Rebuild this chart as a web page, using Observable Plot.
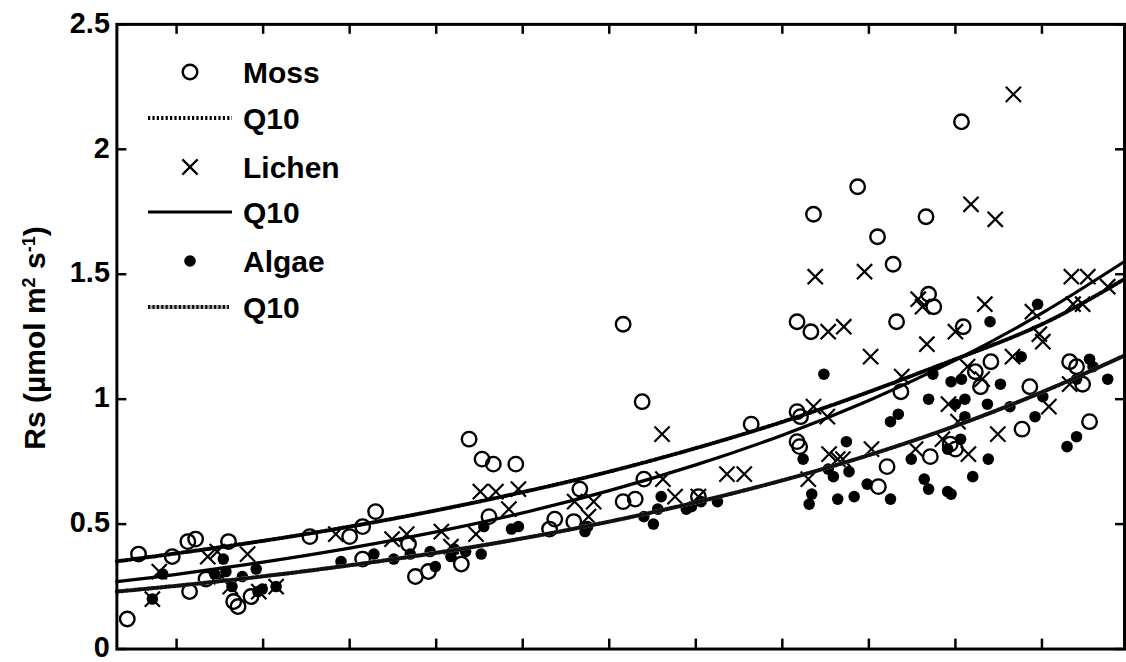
<!DOCTYPE html>
<html><head><meta charset="utf-8">
<script src="https://cdn.jsdelivr.net/npm/d3@7"></script>
<script src="https://cdn.jsdelivr.net/npm/@observablehq/plot@0.6"></script>
<style>
html,body{margin:0;padding:0;background:#fff;overflow:hidden;}
#wrap{position:relative;width:1126px;height:662px;overflow:hidden;background:#fff;}
#wrap > svg{position:absolute;left:0;top:0;}
#ylabel{position:absolute;left:35px;top:338px;transform:translate(-50%,-50%) rotate(-90deg);
  font-family:"Liberation Sans",Arial,sans-serif;font-weight:bold;font-size:30px;line-height:30px;white-space:nowrap;color:#000;}
#ylabel sup{font-size:0.6em;vertical-align:0.55em;line-height:0;}
</style></head>
<body><div id="wrap"></div>
<script>
// ---- data (x in tick units, y = Rs) ----
const mossX = [-0.57,-0.44,-0.05,0.13,0.22,0.15,0.34,0.60,0.66,0.71,0.86,1.54,2.00,2.15,2.30,2.15,2.68,2.76,2.91,3.29,3.38,3.53,3.66,3.92,3.61,4.31,4.37,4.59,4.66,5.16,5.38,5.40,5.16,5.30,6.03,6.64,7.17,7.33,7.17,7.21,7.17,7.20,7.36,7.87,8.10,8.28,8.32,8.66,8.69,8.75,8.37,8.21,8.11,8.71,8.94,9.00,9.07,9.09,9.23,9.41,9.29,9.86,9.77,10.32,10.40,10.47,10.55];
const mossY = [0.12,0.38,0.37,0.43,0.44,0.23,0.28,0.43,0.19,0.17,0.21,0.45,0.45,0.49,0.55,0.36,0.42,0.29,0.31,0.34,0.84,0.76,0.74,0.74,0.53,0.48,0.52,0.51,0.64,1.30,0.99,0.68,0.59,0.60,0.61,0.90,1.31,1.27,0.95,0.93,0.83,0.81,1.74,1.85,1.65,1.54,1.31,1.73,1.42,1.37,1.03,0.73,0.65,0.77,0.82,0.80,2.11,1.29,1.11,1.15,1.05,1.05,0.88,1.15,1.13,1.06,0.91];

const lichenX = [-0.28,-0.20,0.36,0.47,0.82,0.52,0.62,0.95,1.15,1.84,2.49,2.66,3.06,3.17,3.46,3.51,3.69,3.95,3.84,4.60,4.82,4.76,5.61,5.62,5.76,6.36,6.56,6.03,7.38,7.95,8.57,8.62,7.53,7.71,8.02,8.67,8.38,9.00,7.36,7.52,7.54,7.64,7.70,7.30,8.03,8.54,8.85,8.92,9.03,9.15,9.14,9.31,9.66,9.49,10.08,10.32,9.34,9.67,9.18,9.46,10.34,10.53,10.76,9.89,9.97,10.01,10.36,10.47];
const lichenY = [0.20,0.31,0.37,0.39,0.38,0.29,0.25,0.23,0.25,0.46,0.44,0.46,0.47,0.41,0.46,0.63,0.63,0.64,0.56,0.59,0.59,0.53,0.86,0.68,0.61,0.70,0.70,0.61,1.49,1.51,1.40,1.37,1.27,1.29,1.17,1.22,1.09,1.27,0.97,0.93,0.78,0.76,0.76,0.68,0.80,0.80,0.84,0.98,0.91,0.78,1.13,1.08,1.17,0.86,0.97,1.06,1.38,2.22,1.78,1.72,1.49,1.49,1.45,1.35,1.26,1.23,1.38,1.38];

const algaeX = [-0.28,-0.16,0.44,0.54,0.57,0.64,0.76,0.92,0.94,0.99,1.15,1.90,2.28,2.51,2.70,2.93,2.99,3.17,3.21,3.34,3.52,3.55,3.87,3.95,4.72,4.75,5.40,5.51,5.60,5.56,5.89,5.95,6.06,6.25,7.48,8.34,8.25,8.69,7.74,7.24,7.53,7.59,7.77,7.34,7.31,7.64,7.83,7.98,8.25,8.49,8.64,8.69,8.91,8.95,8.91,8.74,8.95,9.07,9.11,9.00,9.37,9.52,9.63,9.76,9.92,10.01,9.11,9.06,9.38,9.20,10.40,10.55,10.59,10.76,10.29,10.40,9.40,9.95];
const algaeY = [0.20,0.30,0.30,0.36,0.31,0.25,0.29,0.32,0.23,0.24,0.25,0.35,0.38,0.36,0.38,0.39,0.33,0.37,0.40,0.39,0.38,0.49,0.48,0.49,0.47,0.49,0.53,0.50,0.61,0.56,0.56,0.57,0.59,0.59,1.10,0.94,0.91,1.00,0.83,0.76,0.72,0.69,0.71,0.62,0.58,0.60,0.61,0.66,0.60,0.76,0.68,0.64,0.63,0.62,0.80,1.10,1.07,1.08,1.00,0.98,0.98,1.06,0.97,1.17,0.93,1.01,0.93,0.84,0.76,0.69,1.08,1.16,1.13,1.08,0.81,0.85,1.31,1.38];

// Q10 fitted curves
const curveX      = [-0.69, 0, 1, 2, 3, 4, 5, 6, 7, 8, 9, 10, 10.95];
const mossQ10Y    = [0.351,0.383,0.433,0.490,0.555,0.628,0.710,0.804,0.909,1.029,1.16,1.30,1.48];
const lichenQ10Y  = [0.270,0.299,0.348,0.404,0.469,0.545,0.634,0.737,0.856,0.995,1.156,1.344,1.55];
const algaeQ10Y   = [0.230,0.253,0.291,0.335,0.385,0.443,0.510,0.587,0.675,0.776,0.893,1.028,1.174];

const xTicks = [0,1,2,3,4,5,6,7,8,9,10];
const yTicks = [0,0.5,1,1.5,2,2.5];
const yTickLabels = ["0","0.5","1","1.5","2","2.5"];
const legendLabels = ["Moss","Q10","Lichen","Q10","Algae","Q10"];

// ---- build ----
const pts = (xs, ys) => xs.map((x, i) => ({x, y: ys[i]}));
const moss = pts(mossX, mossY), lichen = pts(lichenX, lichenY), algae = pts(algaeX, algaeY);
const mossC = pts(curveX, mossQ10Y), lichenC = pts(curveX, lichenQ10Y), algaeC = pts(curveX, algaeQ10Y);

const font = '"Liberation Sans", Arial, sans-serif';
const dotDash = "2.2 2.2";
const chart = Plot.plot({
  width: 1132, height: 662,
  marginLeft: 117, marginRight: 2, marginTop: 24, marginBottom: 10,
  style: {fontFamily: font, fontSize: "29px", fontWeight: "bold", color: "#000", background: "transparent", overflow: "visible"},
  x: {domain: [-0.69, 10.954], axis: null},
  y: {domain: [0, 2.5], axis: null},
  marks: [
    Plot.dot(moss, {x: "x", y: "y", r: 7.3, stroke: "#000", strokeWidth: 2.4, fill: "none"}),
    Plot.dot(lichen, {x: "x", y: "y", r: 7, symbol: "times", stroke: "#000", strokeWidth: 2.2}),
    Plot.dot(algae, {x: "x", y: "y", r: 5.8, fill: "#000", stroke: "none"}),
    Plot.line(mossC, {x: "x", y: "y", curve: "natural", stroke: "#000", strokeWidth: 4, strokeDasharray: dotDash}),
    Plot.line(lichenC, {x: "x", y: "y", curve: "natural", stroke: "#000", strokeWidth: 3.2}),
    Plot.line(algaeC, {x: "x", y: "y", curve: "natural", stroke: "#b0b0b0", strokeWidth: 4}),
    Plot.line(algaeC, {x: "x", y: "y", curve: "natural", stroke: "#111", strokeWidth: 4, strokeDasharray: dotDash}),
    Plot.axisX({anchor: "bottom", ticks: xTicks, tickSize: -10, strokeWidth: 2.5, tickFormat: () => "", label: null}),
    Plot.axisX({anchor: "top", ticks: xTicks, tickSize: -9, strokeWidth: 2.5, tickFormat: () => "", label: null}),
    Plot.axisY({anchor: "left", ticks: yTicks, tickSize: -10, strokeWidth: 2.5, tickFormat: () => "", label: null}),
    Plot.axisY({anchor: "right", ticks: yTicks, tickSize: -10, strokeWidth: 2.5, tickFormat: () => "", label: null}),
    Plot.axisY({anchor: "left", ticks: yTicks, tickSize: 0, tickPadding: 7, dy: -1, tickFormat: (d, i) => yTickLabels[i], label: null}),
    Plot.frame({stroke: "#000", strokeWidth: 3})
  ]
});
const wrap = document.getElementById("wrap");
wrap.appendChild(chart);

// y label
const yl = document.createElement("div");
yl.id = "ylabel";
yl.innerHTML = "Rs (µmol m<sup>2</sup> s<sup>-1</sup>)";
wrap.appendChild(yl);

// legend overlay (inside plot, top-left)
const leg = d3.select(wrap).append("svg")
  .attr("width", 1126).attr("height", 662)
  .style("position", "absolute").style("left", 0).style("top", 0);
const rowY = [72, 118, 167, 212, 261, 307];
const symX = 190, lx0 = 148, lx1 = 232, tx = 243;
legendLabels.forEach((lab, i) => {
  const y = rowY[i];
  if (i === 0) leg.append("circle").attr("cx", symX).attr("cy", y).attr("r", 7.3).attr("fill", "none").attr("stroke", "#000").attr("stroke-width", 2.4);
  if (i === 2) leg.append("path").attr("d", d3.symbol(d3.symbolTimes, Math.PI * 49)()).attr("transform", `translate(${symX},${y})`).attr("fill", "none").attr("stroke", "#000").attr("stroke-width", 2.2);
  if (i === 4) leg.append("circle").attr("cx", symX).attr("cy", y).attr("r", 5.8).attr("fill", "#000");
  if (i === 1) leg.append("line").attr("x1", lx0).attr("x2", lx1).attr("y1", y).attr("y2", y).attr("stroke", "#000").attr("stroke-width", 4).attr("stroke-dasharray", dotDash);
  if (i === 3) leg.append("line").attr("x1", lx0).attr("x2", lx1).attr("y1", y).attr("y2", y).attr("stroke", "#000").attr("stroke-width", 3.2);
  if (i === 5) {
    leg.append("line").attr("x1", lx0).attr("x2", lx1 - 3).attr("y1", y).attr("y2", y).attr("stroke", "#b0b0b0").attr("stroke-width", 4);
    leg.append("line").attr("x1", lx0).attr("x2", lx1 - 3).attr("y1", y).attr("y2", y).attr("stroke", "#111").attr("stroke-width", 4).attr("stroke-dasharray", dotDash);
  }
  leg.append("text").attr("x", tx).attr("y", y).attr("dy", "0.36em")
    .attr("font-family", font).attr("font-weight", "bold").attr("font-size", 30)
    .attr("fill", "#000").text(lab);
});
</script>
</body></html>
